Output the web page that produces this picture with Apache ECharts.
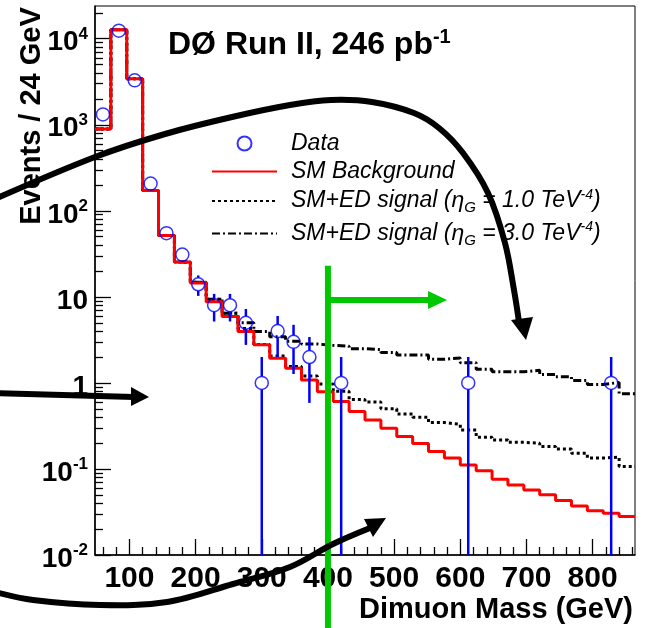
<!DOCTYPE html>
<html><head><meta charset="utf-8">
<script src="https://cdn.jsdelivr.net/npm/echarts@6/dist/echarts.min.js"></script>
<style>html,body{margin:0;padding:0;background:#fff}#c{width:648px;height:628px}</style>
</head><body><div id="c"></div><script>
// ---- data ----
const binLowEdges = [48,72,96,120,144,168,192,216,240,264,288,312,336,360,384,408,432,456,480,504,528,552,576,600,624,648,672,696,720,744,768,792,816,840];
const histEnd = 864;
const smBackground = [890,12700,3430,172,51.6,25.5,14.5,8.8,5.9,3.95,2.77,1.94,1.48,1.08,0.79,0.61,0.464,0.371,0.297,0.238,0.197,0.159,0.134,0.111,0.095,0.076,0.065,0.057,0.050,0.043,0.037,0.0326,0.0305,0.028];
const edSignal1 = [890,12700,3430,172,51.6,25.5,14.8,9.4,6.45,4.3,2.8,2.06,1.55,1.2,0.97,0.8,0.64,0.60,0.50,0.436,0.40,0.346,0.33,0.284,0.234,0.217,0.204,0.199,0.182,0.17,0.152,0.134,0.137,0.107];
const edSignal3 = [890,12700,3430,172,51.6,25.5,14.8,9.4,6.45,5.0,3.95,3.43,3.05,2.83,2.73,2.67,2.5,2.44,2.25,2.11,2.11,1.88,1.95,1.72,1.44,1.35,1.35,1.4,1.25,1.18,1.07,0.96,1.01,0.75];
const dataMass = [60,84,108,132,156,180,204,228,252,276,300,324,348,372,420,612,828];
const dataEvents = [1320,12400,3280,207,55,31,14,8,8,5,1,4,3,2,1,1,1];
const xMajorTicks = [100,200,300,400,500,600,700,800];
const xMinorTicks = [60,80,120,140,160,180,220,240,260,280,320,340,360,380,420,440,460,480,520,540,560,580,620,640,660,680,720,740,760,780,820,840,860];
const yMajorTicks = [0.01,0.1,1,10,100,1000,10000];
const yMinorTicks = [0.02,0.03,0.04,0.05,0.06,0.07,0.08,0.09,0.2,0.3,0.4,0.5,0.6,0.7,0.8,0.9,2,3,4,5,6,7,8,9,20,30,40,50,60,70,80,90,200,300,400,500,600,700,800,900,2000,3000,4000,5000,6000,7000,8000,9000,20000];
const xRange = [48, 864];
const yRange = [0.01, 24000];
const cutMass = 400, cutTop = 23, cutArm = 9.2, cutArrowEnd = 580;

const NAME_DATA = 'Data', NAME_SM = 'SM Background', NAME_E1 = 'SM+ED signal (ηG = 1.0 TeV-4)', NAME_E3 = 'SM+ED signal (ηG = 3.0 TeV-4)';
const legendRich = {};
legendRich[NAME_DATA] = '{t|Data}';
legendRich[NAME_SM] = '{t|SM Background}';
legendRich[NAME_E1] = '{t|SM+ED signal (η}{sub|G}{t| = 1.0 TeV}{sup|-4}{t|)}';
legendRich[NAME_E3] = '{t|SM+ED signal (η}{sub|G}{t| = 3.0 TeV}{sup|-4}{t|)}';

function stepData(vals){ const d = binLowEdges.map((x,i)=>[x, vals[i]]); d.push([histEnd, vals[vals.length-1]]); return d; }

const F = 'Liberation Sans, Arial, Helvetica, sans-serif';
const chart = echarts.init(document.getElementById('c'), null, {renderer:'canvas'});
const tickStyle = {color:'#000', width:1.3};
const hideSym = {opacity:0};
const option = {
  backgroundColor:'#fff',
  animation:false,
  title:{
    text:'{a|DØ Run II, 246 pb}{s|-1}', left:163, top:22,
    textStyle:{rich:{a:{fontFamily:F,fontWeight:'bold',fontSize:32,color:'#000'}, s:{fontFamily:F,fontWeight:'bold',fontSize:20,color:'#000',padding:[0,0,16,0]}}}
  },
  grid:{left:95, right:13, top:6, bottom:73, show:true, borderColor:'#000', borderWidth:1, backgroundColor:'transparent', containLabel:false, outerBoundsMode:'none'},
  legend:{
    orient:'vertical', left:211, top:132, padding:0, itemGap:5, itemWidth:65, itemHeight:14,
    data:[{name:NAME_DATA}, {name:NAME_SM, itemStyle:hideSym}, {name:NAME_E1, itemStyle:hideSym}, {name:NAME_E3, itemStyle:hideSym}],
    formatter: n => legendRich[n],
    textStyle:{fontFamily:F, fontSize:23, fontStyle:'italic', color:'#000', padding:[0,0,0,9],
      rich:{ t:{fontFamily:F,fontSize:23,fontStyle:'italic',color:'#000'},
             sub:{fontFamily:F,fontSize:15,fontStyle:'italic',color:'#000',padding:[14,0,0,0]},
             sup:{fontFamily:F,fontSize:14,fontStyle:'italic',color:'#000',padding:[0,0,12,0]} }}
  },
  xAxis:[
    {type:'value', min:xRange[0], max:xRange[1], position:'bottom',
     name:'Dimuon Mass (GeV)', nameLocation:'end', nameGap:-2,
     nameTextStyle:{fontFamily:F, fontWeight:'bold', fontSize:29, color:'#000', align:'right', verticalAlign:'top', padding:[40,0,0,0]},
     axisLine:{show:true, onZero:false, lineStyle:{color:'#000', width:1.5}},
     axisTick:{show:true, inside:true, length:16, customValues:xMajorTicks, lineStyle:tickStyle},
     axisLabel:{customValues:xMajorTicks, margin:9, fontFamily:F, fontWeight:'bold', fontSize:30, color:'#000'},
     splitLine:{show:false}},
    {type:'value', min:xRange[0], max:xRange[1], position:'bottom',
     axisLine:{show:false, onZero:false},
     axisTick:{show:true, inside:true, length:8, customValues:xMinorTicks, lineStyle:tickStyle},
     axisLabel:{show:false}, splitLine:{show:false}}
  ],
  yAxis:[
    {type:'log', min:yRange[0], max:yRange[1], position:'left',
     axisLine:{show:true, onZero:false, lineStyle:{color:'#000', width:1.5}},
     axisTick:{show:true, inside:true, length:16, customValues:yMajorTicks, lineStyle:tickStyle},
     axisLabel:{customValues:yMajorTicks, margin:7,
       formatter: v => { const e = Math.round(Math.log10(v)); if (e===0) return '{b|1}'; if (e===1) return '{b|10}'; return '{b|10}{s|'+e+'}'; },
       rich:{ b:{fontFamily:F,fontWeight:'bold',fontSize:28,color:'#000',padding:[8,0,0,0]},
              s:{fontFamily:F,fontWeight:'bold',fontSize:17,color:'#000',padding:[0,0,9,0]} }},
     splitLine:{show:false}},
    {type:'log', min:yRange[0], max:yRange[1], position:'left',
     axisLine:{show:false, onZero:false},
     axisTick:{show:true, inside:true, length:8, customValues:yMinorTicks, lineStyle:tickStyle},
     axisLabel:{show:false}, splitLine:{show:false}}
  ],
  series:[
    {name:NAME_E1, type:'line', step:'end', data:stepData(edSignal1), symbol:'none', z:3,
     lineStyle:{color:'#000', width:3, type:[3,3]}, itemStyle:{color:'#000'}},
    {name:NAME_E3, type:'line', step:'end', data:stepData(edSignal3), symbol:'none', z:3,
     lineStyle:{color:'#000', width:3, type:[8,3,2,3]}, itemStyle:{color:'#000'}},
    {name:NAME_SM, type:'line', step:'end', data:stepData(smBackground), symbol:'none', z:4,
     lineStyle:{color:'#ff0000', width:3}, itemStyle:{color:'#ff0000'}},
    {name:'errors', type:'custom', z:5, data:dataMass.map((m,i)=>[m, dataEvents[i]]),
     renderItem:(params, api) => {
       const m = api.value(0), n = api.value(1), err = Math.sqrt(n);
       const c = api.coord([m, n]);
       const top = api.coord([m, n+err])[1];
       const cs = params.coordSys;
       const bottomLimit = cs.y + cs.height;
       let bot = (n-err) > 0 ? api.coord([m, n-err])[1] : bottomLimit;
       if (!isFinite(bot) || bot > bottomLimit) bot = bottomLimit;
       const r = 6.5, ch = [];
       const st = {stroke:'#0000ff', lineWidth:2.5};
       if (top < c[1]-r) ch.push({type:'line', shape:{x1:c[0],y1:top,x2:c[0],y2:c[1]-r}, style:st});
       if (bot > c[1]+r) ch.push({type:'line', shape:{x1:c[0],y1:c[1]+r,x2:c[0],y2:bot}, style:st});
       return {type:'group', children:ch};
     }},
    {name:NAME_DATA, type:'scatter', z:6, data:dataMass.map((m,i)=>[m, dataEvents[i]]),
     symbol:'circle', symbolSize:13,
     itemStyle:{color:'rgba(0,0,0,0)', borderColor:'#0000ff', borderWidth:1.5}},
    {name:'cut', type:'custom', z:20, clip:false, data:[[cutMass, cutTop]],
     renderItem:(params, api) => {
       const p = api.coord([cutMass, cutTop]);
       const a = api.coord([cutMass, cutArm]);
       const e = api.coord([cutArrowEnd, cutArm]);
       const g = '#00c800';
       return {type:'group', children:[
         {type:'line', shape:{x1:p[0],y1:p[1],x2:p[0],y2:api.getHeight()}, style:{stroke:g, lineWidth:6}},
         {type:'line', shape:{x1:p[0],y1:a[1],x2:e[0]-16,y2:a[1]}, style:{stroke:g, lineWidth:6}},
         {type:'polygon', shape:{points:[[e[0]-19,a[1]-9],[e[0],a[1]],[e[0]-19,a[1]+9]]}, style:{fill:g}}
       ]};
     }}
  ],
  graphic:[
    {type:'text', z:50, x:32, y:116, rotation:Math.PI/2,
     style:{text:'Events / 24 GeV', fill:'#000', font:'bold 29px '+F, align:'center', verticalAlign:'middle'}},
    {type:'polyline', z:100, shape:{smooth:0.35, points:[[-5,199],[95,157],[165,134],[232,117],[290,105],[331,100],[372,102],[414,113],[439,128],[463,153],[488,193],[505,243],[514,290],[519,322]]}, style:{stroke:'#000', lineWidth:6, fill:null, lineCap:'round'}},
    {type:'polygon', z:100, shape:{points:[[511,320],[533,317],[526,340]]}, style:{fill:'#000'}},
    {type:'polyline', z:100, shape:{points:[[-5,393],[134,397]]}, style:{stroke:'#000', lineWidth:6, fill:null}},
    {type:'polygon', z:100, shape:{points:[[131,387],[149,397],[131,406]]}, style:{fill:'#000'}},
    {type:'polyline', z:100, shape:{smooth:0.35, points:[[-5,592],[33,600],[100,605],[167,602],[233,584],[290,567],[333,544],[370,528]]}, style:{stroke:'#000', lineWidth:6, fill:null, lineCap:'round'}},
    {type:'polygon', z:100, shape:{points:[[364,519],[386,518],[373,537]]}, style:{fill:'#000'}}
  ]
};
chart.setOption(option);
</script></body></html>
